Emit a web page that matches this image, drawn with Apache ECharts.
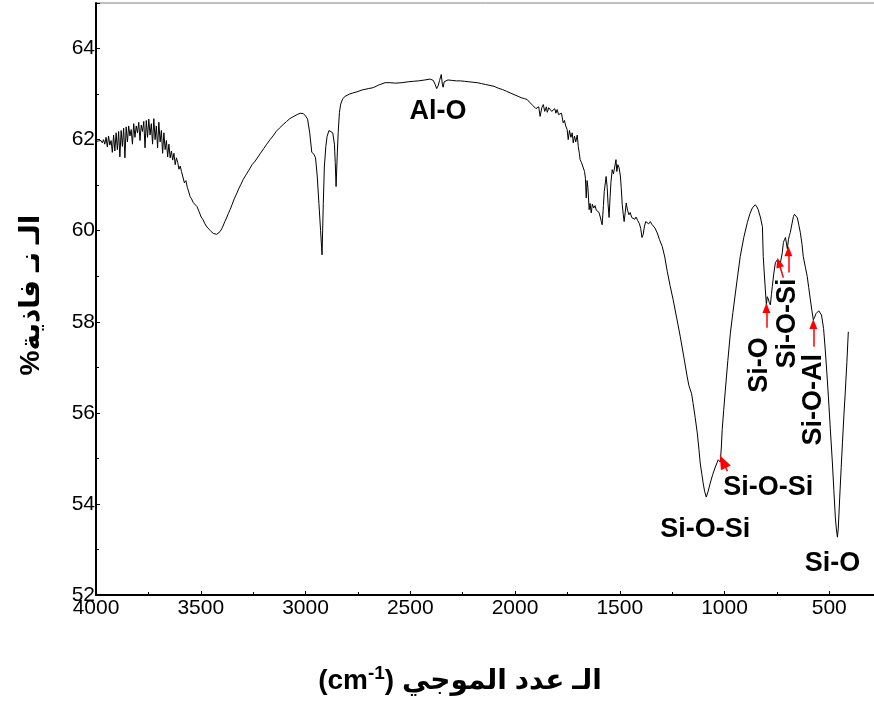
<!DOCTYPE html>
<html><head><meta charset="utf-8">
<script src="https://cdn.jsdelivr.net/npm/echarts@6/dist/echarts.min.js"></script>
<style>html,body{margin:0;padding:0;background:#fff}#c{width:874px;height:708px}</style>
</head><body><div id="c"></div>
<script>
// ---- spectrum data (wavenumber cm-1, transmittance %) ----
const wavenumbers = [
4000,3994,3988,3982,3976,3970,3964,3958,3952,3946,3940,3934,3928,3922,3916,3910,3904,3898,3892,3886,
3880,3874,3868,3862,3856,3850,3844,3838,3832,3826,3820,3814,3808,3802,3796,3790,3784,3778,3772,3766,
3760,3754,3748,3742,3736,3730,3724,3718,3712,3706,3700,3694,3688,3682,3676,3670,3664,3658,3652,3646,
3640,3634,3628,3622,3616,3610,3604,3598,3592,3585,3578,3571,3564,3557,3551,3544,3536,3528,3518,3508,
3498,3489,3480,3470,3460,3450,3440,3432,3424,3416,3408,3400,3394,3385,3375,3368,3360,3350,3340,3327,
3318,3308,3298,3285,3270,3255,3240,3231,3215,3200,3185,3169,3155,3140,3125,3107,3090,3075,3060,3040,
3025,3010,3000,2990,2980,2970,2960,2952,2944,2936,2928,2921,2915,2910,2903,2897,2888,2880,2870,2862,
2858,2854,2849,2844,2838,2832,2822,2811,2790,2770,2754,2730,2700,2677,2650,2620,2596,2570,2540,2510,
2486,2460,2430,2405,2390,2381,2374,2367,2360,2352,2347,2343,2338,2333,2320,2300,2280,2260,2240,2220,
2200,2180,2160,2140,2120,2100,2080,2060,2040,2020,2000,1985,1970,1955,1942,1930,1915,1900,1894,1887,
1880,1872,1865,1858,1850,1846,1839,1832,1825,1818,1810,1805,1799,1792,1784,1778,1775,1770,1764,1758,
1751,1746,1740,1733,1727,1722,1716,1710,1703,1698,1693,1689,1683,1677,1672,1668,1664,1660,1656,1652,
1646,1642,1636,1631,1624,1618,1612,1605,1599,1593,1588,1584,1578,1574,1570,1565,1560,1556,1551,1546,
1542,1536,1530,1524,1518,1514,1509,1503,1497,1493,1488,1483,1479,1474,1469,1463,1456,1450,1443,1436,
1428,1422,1414,1406,1400,1394,1388,1382,1376,1369,1362,1354,1347,1340,1332,1321,1310,1297,1285,1273,
1260,1245,1228,1211,1195,1178,1170,1164,1157,1150,1140,1130,1122,1116,1108,1102,1095,1087,1078,1068,
1056,1044,1036,1030,1024,1020,1015,1011,1004,996,984,972,960,948,936,925,908,891,878,867,
853,845,839,829,819,815,810,805,800,796,791,786,781,776,772,765,757,748,740,733,
728,724,719,714,709,705,700,695,690,686,678,671,666,662,657,652,645,638,630,624,
614,605,598,590,583,576,570,563,557,550,542,537,533,527,519,511,504,495,485,478,
471,466,461,457,450,443,437,430,423,416,409
];
const transmittance = [
61.96,61.95,61.97,61.94,61.98,61.93,62.00,61.90,62.05,61.84,62.08,61.88,61.98,61.72,62.10,61.75,62.15,61.78,62.18,61.62,
62.20,61.85,62.25,61.60,62.28,61.95,62.30,62.08,62.22,61.90,62.35,62.05,62.30,62.15,62.38,61.98,62.32,62.18,62.40,61.82,
62.42,62.05,62.45,62.10,62.35,61.90,62.46,62.00,62.30,61.82,62.38,61.95,62.20,61.70,62.15,61.78,61.98,61.62,61.90,61.60,
61.75,61.55,61.70,61.45,61.60,61.50,61.35,61.42,61.30,61.27,61.05,61.10,60.95,60.85,60.75,60.70,60.62,60.58,60.53,60.42,
60.30,60.24,60.15,60.08,60.03,59.98,59.94,59.91,59.92,59.95,59.98,60.04,60.10,60.20,60.30,60.38,60.46,60.58,60.70,60.83,
60.93,61.02,61.12,61.22,61.33,61.45,61.53,61.56,61.70,61.80,61.90,62.00,62.08,62.18,62.25,62.33,62.40,62.46,62.50,62.55,
62.58,62.57,62.52,62.45,62.15,61.72,61.68,61.60,61.20,60.60,60.00,59.47,60.60,61.40,61.85,62.07,62.20,62.22,62.15,61.90,
61.50,60.97,61.60,62.15,62.60,62.78,62.90,62.95,63.00,63.03,63.05,63.09,63.12,63.14,63.20,63.25,63.25,63.24,63.25,63.27,
63.28,63.29,63.31,63.33,63.30,63.21,63.12,63.18,63.30,63.43,63.22,63.15,63.27,63.30,63.31,63.30,63.29,63.29,63.28,63.27,
63.26,63.25,63.23,63.21,63.19,63.17,63.13,63.10,63.06,63.02,62.98,62.95,62.92,62.90,62.88,62.82,62.75,62.68,62.66,62.72,
62.51,62.70,62.77,62.62,62.72,62.60,62.70,62.73,62.62,62.60,62.68,62.58,62.66,62.55,62.51,62.58,62.60,62.37,62.42,62.30,
62.22,62.00,62.20,62.05,62.15,61.93,62.08,61.95,62.10,61.85,61.70,61.56,61.50,61.42,61.40,61.30,61.15,60.72,61.10,60.95,
60.46,60.60,60.39,60.58,60.50,60.55,60.45,60.48,60.40,60.30,60.20,60.13,60.55,60.86,60.90,61.19,60.95,60.60,60.29,60.75,
61.06,61.34,61.25,61.40,61.56,61.30,61.45,61.38,61.20,60.95,60.57,60.35,60.20,60.40,60.61,60.45,60.35,60.40,60.29,60.33,
60.25,60.30,60.22,60.15,60.05,59.85,59.92,60.10,60.20,60.24,60.15,60.20,60.14,60.18,60.06,59.95,59.80,59.65,59.42,59.10,
58.80,58.48,58.08,57.67,57.25,56.79,56.60,56.57,56.42,56.21,55.90,55.56,55.20,54.90,54.65,54.46,54.28,54.15,54.28,54.46,
54.65,54.81,54.90,54.97,54.93,54.92,55.25,55.63,56.05,56.50,57.15,57.75,58.20,58.63,59.05,59.43,59.85,60.18,60.38,60.50,
60.57,60.52,60.46,60.30,60.09,59.43,59.05,58.70,58.37,58.55,58.50,58.42,58.37,58.60,58.77,59.05,59.30,59.36,59.33,59.30,
59.42,59.52,59.74,59.80,59.85,59.85,59.60,59.80,59.90,59.96,60.15,60.31,60.36,60.40,60.35,60.28,60.12,59.96,59.70,59.43,
59.20,58.99,58.75,58.48,58.25,58.04,58.10,58.18,58.20,58.24,58.22,58.15,58.12,57.85,57.38,56.85,56.35,55.65,54.90,54.30,
53.71,53.45,53.27,53.45,54.15,54.80,55.34,55.95,56.50,57.10,57.78
];

// ---- annotations (data coordinates) ----
const labelTexts  = ['Al-O', 'Si-O-Si', 'Si-O-Si', 'Si-O', 'Si-O', 'Si-O-Si', 'Si-O-Al'];
const labelWn     = [2367, 1092, 791, 485, 834, 700, 576];
const labelT      = [62.62, 53.43, 54.35, 52.68, 57.05, 57.96, 56.29];
const labelRotate = [0, 0, 0, 0, 90, 90, 90];

const arrowFromWn = [800, 719, 695, 576, 986];
const arrowFromT  = [57.87, 58.97, 59.08, 57.45, 54.72];
const arrowToWn   = [800, 741, 695, 576, 1008];
const arrowToT    = [58.30, 59.30, 59.55, 57.95, 54.93];
const arrowHead   = [[8, 10], [8, 10], [8, 10], [8, 10], [11, 14]];

const xTitleText = 'الـ عدد الموجي';
const yTitleText = '%الـ نـ فاذية';

const chart = echarts.init(document.getElementById('c'), null, {renderer: 'canvas'});
const font = 'Liberation Sans, Arial, DejaVu Sans, sans-serif';

const spectrum = wavenumbers.map((w, i) => [w, transmittance[i]]);
const arrowData = arrowFromWn.map((w, i) => [
  {coord: [w, arrowFromT[i]], symbol: 'none'},
  {coord: [arrowToWn[i], arrowToT[i]], symbol: 'triangle', symbolSize: arrowHead[i]}
]);

chart.setOption({
  animation: false,
  backgroundColor: '#fff',
  grid: {left: 96, top: 3, width: 838, height: 592, show: true, borderColor: '#808080', borderWidth: 1,
         containLabel: false, outerBoundsMode: 'none'},
  xAxis: {
    type: 'value', min: 0, max: 4000, interval: 500, inverse: true,
    axisLine: {lineStyle: {color: '#000', width: 2}},
    axisTick: {show: true, inside: true, length: 4, lineStyle: {color: '#000', width: 1}},
    minorTick: {show: true, splitNumber: 2, length: 3, lineStyle: {color: '#000', width: 1}},
    axisLabel: {color: '#000', fontFamily: font, fontSize: 21, margin: 3, formatter: v => String(v)},
    splitLine: {show: false}
  },
  yAxis: {
    type: 'value', min: 52, max: 65, interval: 2,
    axisLine: {show: true, onZero: false, lineStyle: {color: '#000', width: 2}},
    axisTick: {show: true, inside: true, length: 4, lineStyle: {color: '#000', width: 1}},
    minorTick: {show: true, splitNumber: 2, length: 3, lineStyle: {color: '#000', width: 1}},
    axisLabel: {color: '#000', fontFamily: font, fontSize: 21, margin: 1, showMaxLabel: false, formatter: v => String(v)},
    splitLine: {show: false}
  },
  series: [
    {
      type: 'line', data: spectrum, showSymbol: false, symbol: 'none',
      lineStyle: {color: '#000', width: 1}, silent: true, z: 2,
      markLine: {
        silent: true, animation: false,
        lineStyle: {color: '#ff0000', width: 1.5, type: 'solid'},
        label: {show: false},
        emphasis: {disabled: true},
        data: arrowData
      }
    }
  ]
});

// annotation texts placed at data coordinates through the axes
const annGraphics = labelTexts.map((t, i) => {
  const p = chart.convertToPixel({gridIndex: 0}, [labelWn[i], labelT[i]]);
  return {
    type: 'text', x: p[0], y: p[1], rotation: labelRotate[i] * Math.PI / 180, z: 10,
    style: {text: t, align: 'center', verticalAlign: 'middle', fontFamily: font,
            fontWeight: 'bold', fontSize: 27, fill: '#000'}
  };
});

chart.setOption({
  graphic: annGraphics.concat([
    {
      type: 'text', x: 460, y: 681,
      style: {
        text: '{a|(cm}{b|-1}{a|) }{c|' + xTitleText + '}',
        align: 'center', verticalAlign: 'middle',
        rich: {
          a: {fontFamily: font, fontWeight: 'bold', fontSize: 28, lineHeight: 34, fill: '#000'},
          b: {fontFamily: font, fontWeight: 'bold', fontSize: 19, lineHeight: 20, verticalAlign: 'top', fill: '#000'},
          c: {fontFamily: font, fontWeight: 'bold', fontSize: 28, lineHeight: 34, fill: '#000'}
        }
      }
    },
    {
      type: 'text', x: 31, y: 295, rotation: Math.PI / 2,
      style: {
        text: yTitleText, align: 'center', verticalAlign: 'middle',
        fontFamily: font, fontWeight: 'bold', fontSize: 28, fill: '#000'
      }
    }
  ])
});
</script>
</body></html>
